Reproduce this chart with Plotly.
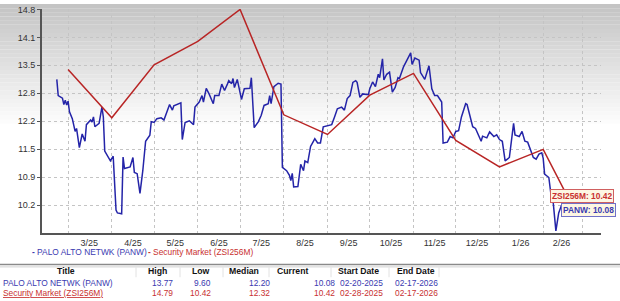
import plotly.graph_objects as go

# ---------------- data ----------------
panw_dates = [
    "2025-02-20", "2025-02-21", "2025-02-24", "2025-02-25", "2025-02-26", "2025-02-27", "2025-02-28",
    "2025-03-01", "2025-03-03", "2025-03-05", "2025-03-06", "2025-03-08", "2025-03-10", "2025-03-12",
    "2025-03-13", "2025-03-16", "2025-03-17", "2025-03-18", "2025-03-19", "2025-03-22", "2025-03-24",
    "2025-03-25", "2025-03-26", "2025-03-29", "2025-03-30", "2025-04-01", "2025-04-03", "2025-04-04",
    "2025-04-07", "2025-04-08", "2025-04-09", "2025-04-13", "2025-04-15", "2025-04-16", "2025-04-18",
    "2025-04-20", "2025-04-22", "2025-04-24", "2025-04-27", "2025-04-28", "2025-04-30", "2025-05-02",
    "2025-05-05", "2025-05-07", "2025-05-11", "2025-05-13", "2025-05-14", "2025-05-19", "2025-05-20",
    "2025-05-22", "2025-05-25", "2025-05-28", "2025-05-29", "2025-06-01", "2025-06-03", "2025-06-04",
    "2025-06-06", "2025-06-08", "2025-06-11", "2025-06-12", "2025-06-15", "2025-06-17", "2025-06-19",
    "2025-06-21", "2025-06-22", "2025-06-24", "2025-06-25", "2025-06-26", "2025-06-28", "2025-07-01",
    "2025-07-03", "2025-07-07", "2025-07-08", "2025-07-10", "2025-07-13", "2025-07-15", "2025-07-17",
    "2025-07-20", "2025-07-21", "2025-07-22", "2025-07-24", "2025-07-27", "2025-07-29", "2025-07-30",
    "2025-08-02", "2025-08-04", "2025-08-05", "2025-08-06", "2025-08-07", "2025-08-10", "2025-08-11",
    "2025-08-12", "2025-08-14", "2025-08-15", "2025-08-17", "2025-08-19", "2025-08-21", "2025-08-22",
    "2025-08-24", "2025-08-26", "2025-08-28", "2025-08-31", "2025-09-03", "2025-09-05", "2025-09-07",
    "2025-09-10", "2025-09-12", "2025-09-14", "2025-09-16", "2025-09-18", "2025-09-20", "2025-09-21",
    "2025-09-23", "2025-09-25", "2025-09-29", "2025-09-30", "2025-10-02", "2025-10-04", "2025-10-06",
    "2025-10-07", "2025-10-09", "2025-10-10", "2025-10-12", "2025-10-14", "2025-10-16", "2025-10-18",
    "2025-10-20", "2025-10-21", "2025-10-24", "2025-10-26", "2025-10-29", "2025-10-30", "2025-11-01",
    "2025-11-04", "2025-11-05", "2025-11-08", "2025-11-11", "2025-11-13", "2025-11-15", "2025-11-17",
    "2025-11-20", "2025-11-21", "2025-11-24", "2025-11-26", "2025-11-28", "2025-11-30", "2025-12-02",
    "2025-12-04", "2025-12-07", "2025-12-08", "2025-12-10", "2025-12-12", "2025-12-14", "2025-12-17",
    "2025-12-18", "2025-12-19", "2025-12-22", "2025-12-24", "2025-12-27", "2025-12-29", "2025-12-31",
    "2026-01-02", "2026-01-04", "2026-01-07", "2026-01-10", "2026-01-11", "2026-01-14", "2026-01-16",
    "2026-01-18", "2026-01-20", "2026-01-23", "2026-01-24", "2026-01-26", "2026-01-28", "2026-01-30",
    "2026-01-31", "2026-02-01", "2026-02-03", "2026-02-04", "2026-02-06", "2026-02-07", "2026-02-09",
    "2026-02-11", "2026-02-13", "2026-02-14", "2026-02-16", "2026-02-17",
]
panw_values = [
    13.15, 12.77, 12.71, 12.56, 12.66, 12.55, 12.64,
    12.39, 12.23, 11.93, 12.00, 11.55, 11.87, 11.70,
    12.09, 12.20, 12.15, 12.27, 12.04, 12.12, 12.50,
    12.27, 11.47, 11.32, 11.24, 11.35, 10.09, 10.02,
    10.00, 11.33, 11.06, 11.10, 11.32, 10.97, 10.94,
    10.48, 11.01, 11.70, 11.84, 12.16, 12.14, 12.23,
    12.25, 12.20, 12.56, 12.43, 12.53, 12.60, 11.74,
    12.14, 12.18, 12.09, 12.50, 12.62, 12.77, 12.62,
    12.94, 12.81, 12.58, 12.77, 12.77, 13.04, 12.89,
    13.04, 13.12, 13.05, 13.17, 12.96, 13.15, 12.68,
    12.93, 12.94, 13.19, 12.02, 12.16, 12.31, 12.54,
    12.58, 12.77, 12.58, 12.98, 13.06, 13.04, 11.09,
    11.01, 10.90, 10.78, 10.95, 10.63, 10.64, 10.89,
    11.16, 11.01, 11.24, 11.20, 11.58, 11.70, 11.76,
    11.66, 11.66, 12.04, 12.07, 12.09, 12.27, 12.46,
    12.50, 12.43, 12.70, 12.77, 13.08, 13.12, 13.08,
    12.73, 12.81, 12.79, 12.93, 13.09, 12.98, 13.27,
    13.19, 13.63, 13.14, 13.27, 13.32, 12.85, 12.96,
    13.19, 13.17, 13.45, 13.58, 13.77, 13.50, 13.65,
    13.60, 13.31, 13.15, 13.47, 12.93, 12.77, 12.77,
    12.62, 11.66, 11.68, 11.81, 11.78, 11.93, 11.95,
    12.27, 12.58, 12.56, 12.31, 12.04, 12.00, 11.78,
    11.70, 11.82, 11.78, 11.92, 11.81, 11.85, 11.74,
    11.70, 11.24, 11.32, 12.12, 11.85, 11.81, 11.93,
    11.70, 11.68, 11.39, 11.32, 11.28, 11.40, 11.43,
    11.30, 10.93, 10.89, 10.85, 10.32, 10.30, 9.60,
    10.02, 10.20, 10.15, 10.25, 10.08,
]

zsi_dates = [
    "2025-02-28", "2025-03-31", "2025-04-30", "2025-05-31", "2025-06-30", "2025-07-31",
    "2025-08-31", "2025-09-30", "2025-10-31", "2025-11-30", "2025-12-31", "2026-01-31", "2026-02-17",
]
zsi_values = [13.38, 12.25, 13.49, 14.04, 14.79, 12.32, 11.86, 12.78, 13.29, 11.72, 11.10, 11.51, 10.42]

y_tick_labels = ["10.2", "10.9", "11.5", "12.2", "12.8", "13.5", "14.1", "14.8"]
y_axis_min = 9.55
y_axis_max = 14.79

x_tick_dates = ["2025-03-15", "2025-04-15", "2025-05-15", "2025-06-15", "2025-07-15", "2025-08-15",
                "2025-09-15", "2025-10-15", "2025-11-15", "2025-12-15", "2026-01-15", "2026-02-13"]
x_tick_labels = ["3/25", "4/25", "5/25", "6/25", "7/25", "8/25", "9/25", "10/25", "11/25", "12/25", "1/26", "2/26"]
month_end_dates = ["2025-02-28", "2025-03-31", "2025-04-30", "2025-05-31", "2025-06-30", "2025-07-31",
                   "2025-08-31", "2025-09-30", "2025-10-31", "2025-11-30", "2025-12-31", "2026-01-31", "2026-02-28"]

series_names = ["PALO ALTO NETWK (PANW)", "Security Market (ZSI256M)"]
short_names = ["PANW", "ZSI256M"]
table_headers = ["Title", "High", "Low", "Median", "Current", "Start Date", "End Date"]
table_high = ["13.77", "14.79"]
table_low = ["9.60", "10.42"]
table_median = ["12.20", "12.32"]
table_current = ["10.08", "10.42"]
table_start = ["02-20-2025", "02-28-2025"]
table_end = ["02-17-2026", "02-17-2026"]

# ---------------- layout helpers ----------------
W, H = 620, 301
L, R, T, B = 42, 19, 5, 68
PW, PH = W - L - R, H - T - B


def px_x(p):
    return (p - L) / PW


def px_y(p):
    return (H - B - p) / PH


BLUE = "#2424a8"
RED = "#b82525"
TXT_BLUE = "#3a3ab0"
TXT_RED = "#c83030"
SMALL = 8.4

fig = go.Figure()
fig.add_trace(go.Scatter(x=panw_dates, y=panw_values, mode="lines",
                         line=dict(color=BLUE, width=1.5), name=series_names[0], showlegend=False))
fig.add_trace(go.Scatter(x=zsi_dates, y=zsi_values, mode="lines",
                         line=dict(color=RED, width=1.5), name=series_names[1], showlegend=False))

step = (y_axis_max - y_axis_min) / 8
y_tick_vals = [y_axis_min + step * (i + 1) for i in range(8)]

shapes = []
# background gradient (grey at top fading to white)
n = 30
g_top = 196
for i in range(n):
    p0 = i * 4.2
    p1 = p0 + 4.3
    c = int(g_top + (255 - g_top) * (i / (n - 1)))
    shapes.append(dict(type="rect", xref="paper", yref="paper", x0=px_x(0), x1=px_x(W),
                       y0=px_y(p1), y1=px_y(p0), line=dict(width=0),
                       fillcolor=f"rgb({c},{c},{c})", layer="below"))

# table header lines
shapes.append(dict(type="line", xref="paper", yref="paper", x0=px_x(0), x1=px_x(W),
                   y0=px_y(265), y1=px_y(265), line=dict(color="#8a8a8a", width=1.5)))
shapes.append(dict(type="line", xref="paper", yref="paper", x0=px_x(0), x1=px_x(W),
                   y0=px_y(267.5), y1=px_y(267.5), line=dict(color="#d0d0d0", width=1)))
for sx in [136, 180, 223, 269, 331, 389, 439]:
    shapes.append(dict(type="line", xref="paper", yref="paper", x0=px_x(sx), x1=px_x(sx),
                       y0=px_y(268), y1=px_y(278), line=dict(color="#e2e2e2", width=1)))

annotations = []
FONT = "Liberation Sans, Arial, sans-serif"

# legend (manual)
annotations.append(dict(xref="paper", yref="paper", x=px_x(30), y=px_y(252), xanchor="left", yanchor="middle",
                        showarrow=False, font=dict(family=FONT, size=SMALL, color=TXT_BLUE),
                        text=f"<b>-</b> {series_names[0]}"))
annotations.append(dict(xref="paper", yref="paper", x=px_x(146), y=px_y(252), xanchor="left", yanchor="middle",
                        showarrow=False, font=dict(family=FONT, size=SMALL, color=TXT_RED),
                        text=f"<b>-</b> {series_names[1]}"))

# end labels
annotations.append(dict(xref="paper", yref="y", x=px_x(614), y=zsi_values[-1], xanchor="right", yanchor="middle",
                        showarrow=False, font=dict(family=FONT, size=SMALL, color=TXT_RED),
                        text=f"<b>{short_names[1]}: {zsi_values[-1]:.2f}</b>",
                        bgcolor="#fdf6e3", bordercolor="#d06060", borderwidth=1, borderpad=1))
annotations.append(dict(xref="paper", yref="y", x=px_x(616), y=panw_values[-1], xanchor="right", yanchor="middle",
                        showarrow=False, font=dict(family=FONT, size=SMALL, color=TXT_BLUE),
                        text=f"<b>{short_names[0]}: {panw_values[-1]:.2f}</b>",
                        bgcolor="#fdf6e3", bordercolor="#7070c8", borderwidth=1, borderpad=1))

# table header
header_centers = [66, 157, 201, 244, 292, 358, 416]
for hx, htxt in zip(header_centers, table_headers):
    annotations.append(dict(xref="paper", yref="paper", x=px_x(hx), y=px_y(272), xanchor="center",
                            yanchor="middle", showarrow=False,
                            font=dict(family=FONT, size=SMALL + 0.3, color="#111111"), text=f"<b>{htxt}</b>"))

row_ys = [283.5, 294.5]
row_colors = [TXT_BLUE, TXT_RED]
for r in range(2):
    ry = row_ys[r]
    col = row_colors[r]
    title = series_names[r] if r == 0 else f"<u>{series_names[r]}</u>"
    annotations.append(dict(xref="paper", yref="paper", x=px_x(1), y=px_y(ry), xanchor="left",
                            yanchor="middle", showarrow=False,
                            font=dict(family=FONT, size=SMALL, color=col), text=title))
    for rx, vals in zip([175, 213, 272, 337], [table_high, table_low, table_median, table_current]):
        annotations.append(dict(xref="paper", yref="paper", x=px_x(rx), y=px_y(ry), xanchor="right",
                                yanchor="middle", showarrow=False,
                                font=dict(family=FONT, size=SMALL, color=col), text=vals[r]))
    for cx, vals in zip([361, 416], [table_start, table_end]):
        annotations.append(dict(xref="paper", yref="paper", x=px_x(cx), y=px_y(ry), xanchor="center",
                                yanchor="middle", showarrow=False,
                                font=dict(family=FONT, size=SMALL, color=col), text=vals[r]))

fig.update_layout(
    width=W, height=H,
    margin=dict(l=L, r=R, t=T, b=B, pad=0),
    paper_bgcolor="white",
    plot_bgcolor="rgba(0,0,0,0)",
    showlegend=False,
    shapes=shapes,
    annotations=annotations,
    font=dict(family=FONT, size=9, color="#333333"),
    xaxis=dict(
        type="date",
        range=["2025-02-09 12:00", "2026-03-13"],
        tickvals=x_tick_dates, ticktext=x_tick_labels,
        showgrid=False, ticks="", tickfont=dict(size=9, color="#333333"),
        showline=True, linecolor="#555555", linewidth=2,
        minor=dict(tickvals=month_end_dates, showgrid=True, gridcolor="#c4c4c4",
                   griddash="dot", gridwidth=1, ticks=""),
        zeroline=False, fixedrange=True,
    ),
    yaxis=dict(
        range=[y_axis_min, y_axis_max + 0.01],
        tickvals=y_tick_vals, ticktext=y_tick_labels,
        showgrid=True, gridcolor="#c4c4c4", griddash="dot", gridwidth=1,
        ticks="outside", ticklen=3, tickcolor="#555555", tickfont=dict(size=9, color="#333333"),
        showline=True, linecolor="#555555", linewidth=2,
        zeroline=False, fixedrange=True,
    ),
)

fig.write_html("out.html")
